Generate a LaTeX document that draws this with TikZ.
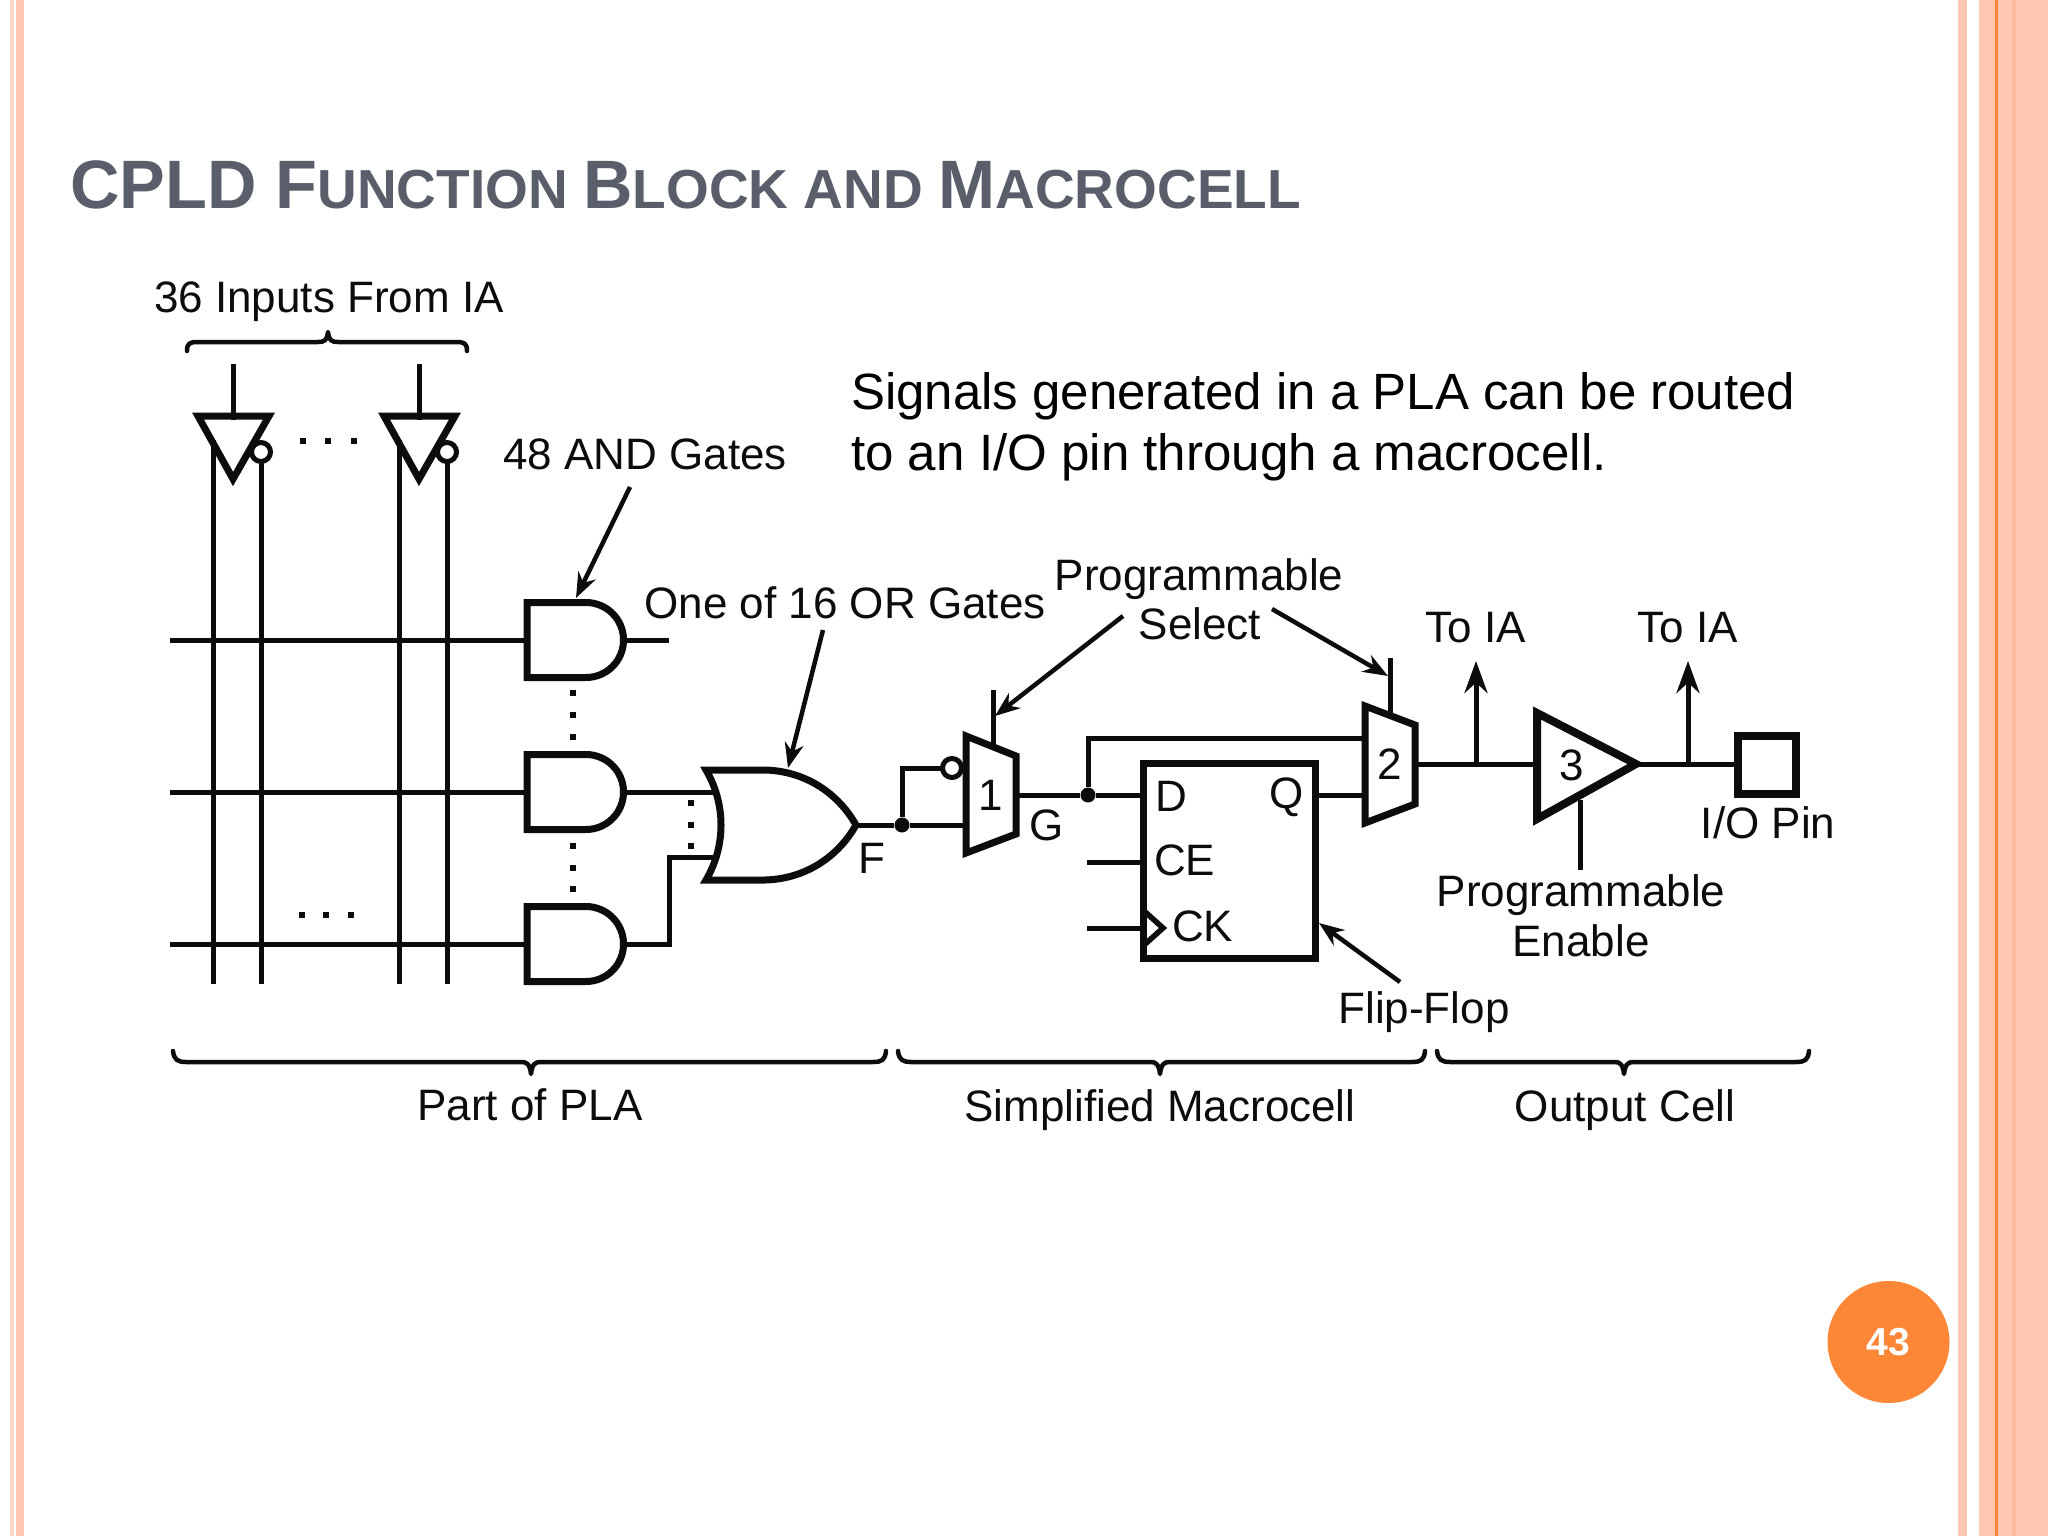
\documentclass[tikz,border=0pt]{standalone}
\usepackage{fontspec}
\setmainfont{Liberation Sans}
\newfontfamily\lab{Liberation Sans}
\usetikzlibrary{arrows.meta}
\definecolor{titlec}{HTML}{595E6A}
\definecolor{barl}{HTML}{FFC6B0}
\definecolor{bard}{HTML}{FFB99F}
\definecolor{barm}{HTML}{FE8637}
\definecolor{diag}{HTML}{0C0C0C}
\tikzset{
  wire/.style={draw=diag,line width=5pt},
  gate/.style={draw=diag,line width=7pt,line join=miter,fill=white},
  thin wire/.style={draw=diag,line width=4.5pt,line cap=round,line join=round},
  ptr/.style={draw=diag,line width=4.5pt,-{Stealth[length=25pt,width=19pt]}},
  up/.style={draw=diag,line width=5pt,-{Stealth[length=32pt,width=23pt]}},
  lb/.style={font=\lab\fontsize{44}{48}\selectfont,text=diag,inner sep=0pt,align=center},
  jn/.style={circle,fill=diag,draw=none,minimum size=15pt,inner sep=0pt},
  bub/.style={circle,draw=diag,fill=white,line width=5pt,minimum size=19pt,inner sep=0pt},
  dot/.style={fill=diag,draw=none,minimum size=5.5pt,inner sep=0pt,rectangle},
}
\begin{document}
\begin{tikzpicture}[x=1pt,y=-1pt]
\useasboundingbox (0,0) rectangle (2048,1536);
\fill[white] (0,0) rectangle (2048,1536);
% side bars
\fill[barl!70] (10,0) rectangle (14,1536);
\fill[barl] (16,0) rectangle (24,1536);
\fill[barl] (1958,0) rectangle (1967,1536);
\fill[barl] (1979,0) rectangle (2048,1536);
\fill[barm] (1995,0) rectangle (1998,1536);
\fill[bard] (2012,0) rectangle (2016,1536);
% title
\node[anchor=base west,inner sep=0pt,text=titlec,font=\bfseries] (title) at (70,208)
  {\fontsize{68.5}{72}\selectfont CPLD F\fontsize{55}{72}\selectfont UNCTION \fontsize{68.5}{72}\selectfont B\fontsize{55}{72}\selectfont LOCK AND \fontsize{68.5}{72}\selectfont M\fontsize{55}{72}\selectfont ACROCELL};
% paragraph
\node[anchor=base west,inner sep=0pt,font=\fontsize{51}{61}\selectfont,text=black] (p1) at (851,409) {Signals generated in a PLA can be routed};
\node[anchor=base west,inner sep=0pt,font=\fontsize{51.1}{61}\selectfont,text=black] (p2) at (851,470) {to an I/O pin through a macrocell.};
% page number
\node[circle,fill=barm,minimum size=122pt,inner sep=0pt,text=white,font=\bfseries\fontsize{39}{40}\selectfont] (pg) at (1888.5,1342) {43};

% horizontal and vertical grid
\foreach \n/\y in {a/640,b/792,c/944}{
  \coordinate (h\n) at (170,\y);
}
\foreach \n/\x in {1/213,2/261,3/399,4/447}{
  \coordinate (vb\n) at (\x,984);
}
\coordinate (i1) at (233,364);
\coordinate (i2) at (419,364);
\draw[wire] (i1) -- (233,420);
\draw[wire] (i2) -- (419,420);
\draw[wire] (213,440) -- (vb1);
\draw[wire] (261,455) -- (vb2);
\draw[wire] (399,440) -- (vb3);
\draw[wire] (447,455) -- (vb4);
% inverters
\draw[gate,fill=none] (198,416) -- (269,416) -- (233,479) -- cycle;
\draw[gate,fill=none] (384,416) -- (455,416) -- (419,479) -- cycle;
\node[bub] (b1) at (261,452) {};
\node[bub] (b2) at (447,452) {};
\foreach \x in {303,328,354}{\node[dot] at (\x,441) {};}
\foreach \x in {302,326,351}{\node[dot] at (\x,915) {};}
% AND gates
\foreach \n/\y in {a/640,b/792,c/944}{
  \draw[gate] (527,\y-37.5) -- (586,\y-37.5) arc[start angle=-90,end angle=90,radius=37.5] -- (527,\y+37.5) -- cycle;
  \node[inner sep=0pt,minimum size=0pt] (and\n) at (527,\y) {};
  \draw[wire] (h\n) -- (and\n);
}
\coordinate (o1) at (669,640);
\draw[wire] (626,640) -- (o1);
\foreach \y in {693,715,737,846,868,889}{\node[dot] at (573,\y) {};}
\foreach \y in {803,825,846}{\node[dot] at (691,\y) {};}
% OR gate
\coordinate (orup) at (714,792);
\coordinate (orlo) at (714,857);
\draw[wire] (626,792) -- (orup);
\draw[wire] (626,944) -- (669,944) -- (669,857) -- (orlo);
\draw[gate,fill=none] (706,770) -- (765,770) .. controls (805,771) and (838,793) .. (856,825)
  .. controls (838,857) and (805,879) .. (765,880) -- (706,880) .. controls (726,846) and (726,804) .. cycle;
\coordinate (ortip) at (856,825);
\node[jn] (j1) at (902,825) {};
\draw[wire] (ortip) -- (j1) -- (964,825);
\draw[wire] (j1) -- (902,768) -- (942,768);
\node[bub] (b3) at (952,768) {};
% mux 1
\draw[gate] (966,736) -- (1016,756) -- (1016,834) -- (966,853) -- cycle;
\node[lb] (m1) at (991,795) {1};
\coordinate (s1) at (993,690);
\draw[wire] (s1) -- (993,745);
% flip flop
\node[jn] (j2) at (1088,795) {};
\draw[wire] (1018,795) -- (j2) -- (1142,795);
\draw[wire] (j2) -- (1088,738) -- (1362,738);
\draw[gate,fill=white] (1143,763) rectangle (1315,958);
\draw[wire] (1087,862) -- (1142,862);
\draw[wire] (1087,928) -- (1142,928);
\draw[draw=diag,line width=5.5pt] (1143,910) -- (1163,928) -- (1143,946);
\node[lb,anchor=west] (d) at (1155,796) {D};
\node[lb,anchor=center] (q) at (1287,797) {Q};
\node[lb,anchor=west] (ce) at (1154,860) {CE};
\node[lb,anchor=west] (ck) at (1172,926) {CK};
\draw[wire] (1316,795) -- (1362,795);
% mux 2
\draw[gate] (1365,706) -- (1415,725) -- (1415,804) -- (1365,823) -- cycle;
\node[lb] (m2) at (1390,764) {2};
\coordinate (s2) at (1390,658);
\draw[wire] (s2) -- (1390,714);
% output
\coordinate (t1) at (1476,661);
\coordinate (t2) at (1688,661);
\coordinate (e1) at (1580,870);
\draw[wire] (1418,764) -- (1535,764);
\draw[up] (1476,764) -- (t1);
\draw[gate,line width=8pt] (1537,713) -- (1636,764) -- (1537,819) -- cycle;
\node[lb] (b3l) at (1572,765) {3};
\draw[wire] (1580,800) -- (e1);
\draw[wire] (1637,764) -- (1737,764);
\draw[up] (1688,764) -- (t2);
\node[draw=diag,line width=8pt,minimum width=58pt,minimum height=58pt,inner sep=0pt,fill=white] (pin) at (1767,764.5) {};
% labels
\node[lb] (l36) at (329,302) {36 Inputs From IA};
\node[lb] (l48) at (645,454) {48 AND Gates};
\node[lb] (l16) at (845,603) {One of 16 OR Gates};
\node[lb] (lps) at (1199,579) {Programmable};
\node[lb] (lsel) at (1200,624) {Select};
\node[lb] (lta1) at (1476,628) {To IA};
\node[lb] (lta2) at (1688,628) {To IA};
\node[lb] (lio) at (1768,823) {I/O Pin};
\node[lb] (lpe) at (1581,895) {Programmable};
\node[lb] (len) at (1581,941) {Enable};
\node[lb] (lff) at (1424,1012) {Flip-Flop};
\node[lb] (lf) at (872,858) {F};
\node[lb] (lg) at (1047,825) {G};
\node[lb] (lpla) at (530,1105) {Part of PLA};
\node[lb] (lmac) at (1160,1110) {Simplified Macrocell};
\node[lb] (lout) at (1625,1110) {Output Cell};
% pointer arrows
\coordinate (a48s) at (630,487); \coordinate (a48e) at (576,598);
\draw[ptr] (a48s) -- (a48e);
\coordinate (a16s) at (823,630); \coordinate (a16e) at (788,768);
\draw[ptr] (a16s) -- (a16e);
\coordinate (s1s) at (1123,616); \coordinate (s1e) at (995,716);
\draw[ptr] (s1s) -- (s1e);
\coordinate (s2s) at (1272,609); \coordinate (s2e) at (1388,676);
\draw[ptr] (s2s) -- (s2e);
\coordinate (ffs) at (1400,982); \coordinate (ffe) at (1319,923);
\draw[ptr] (ffs) -- (ffe);
% braces
\draw[thin wire] (187,351) .. controls (187,343) and (190,342) .. (198,342) -- (318,342) .. controls (325,342) and (327,340) .. (328,332) .. controls (329,340) and (331,342) .. (338,342) -- (456,342) .. controls (464,342) and (467,343) .. (467,351);
\draw[thin wire] (173,1051) .. controls (174,1060) and (178,1062) .. (186,1062) -- (521,1062) .. controls (528,1062) and (530,1065) .. (531,1074) .. controls (532,1065) and (534,1062) .. (541,1062) -- (873,1062) .. controls (882,1062) and (885,1060) .. (886,1051);
\draw[thin wire] (898,1051) .. controls (899,1060) and (903,1062) .. (911,1062) -- (1150,1062) .. controls (1157,1062) and (1159,1065) .. (1160,1074) .. controls (1161,1065) and (1163,1062) .. (1170,1062) -- (1412,1062) .. controls (1421,1062) and (1424,1060) .. (1425,1051);
\draw[thin wire] (1437,1051) .. controls (1438,1060) and (1442,1062) .. (1450,1062) -- (1614,1062) .. controls (1621,1062) and (1623,1065) .. (1624,1074) .. controls (1625,1065) and (1627,1062) .. (1634,1062) -- (1796,1062) .. controls (1805,1062) and (1808,1060) .. (1809,1051);
\end{tikzpicture}
\end{document}
